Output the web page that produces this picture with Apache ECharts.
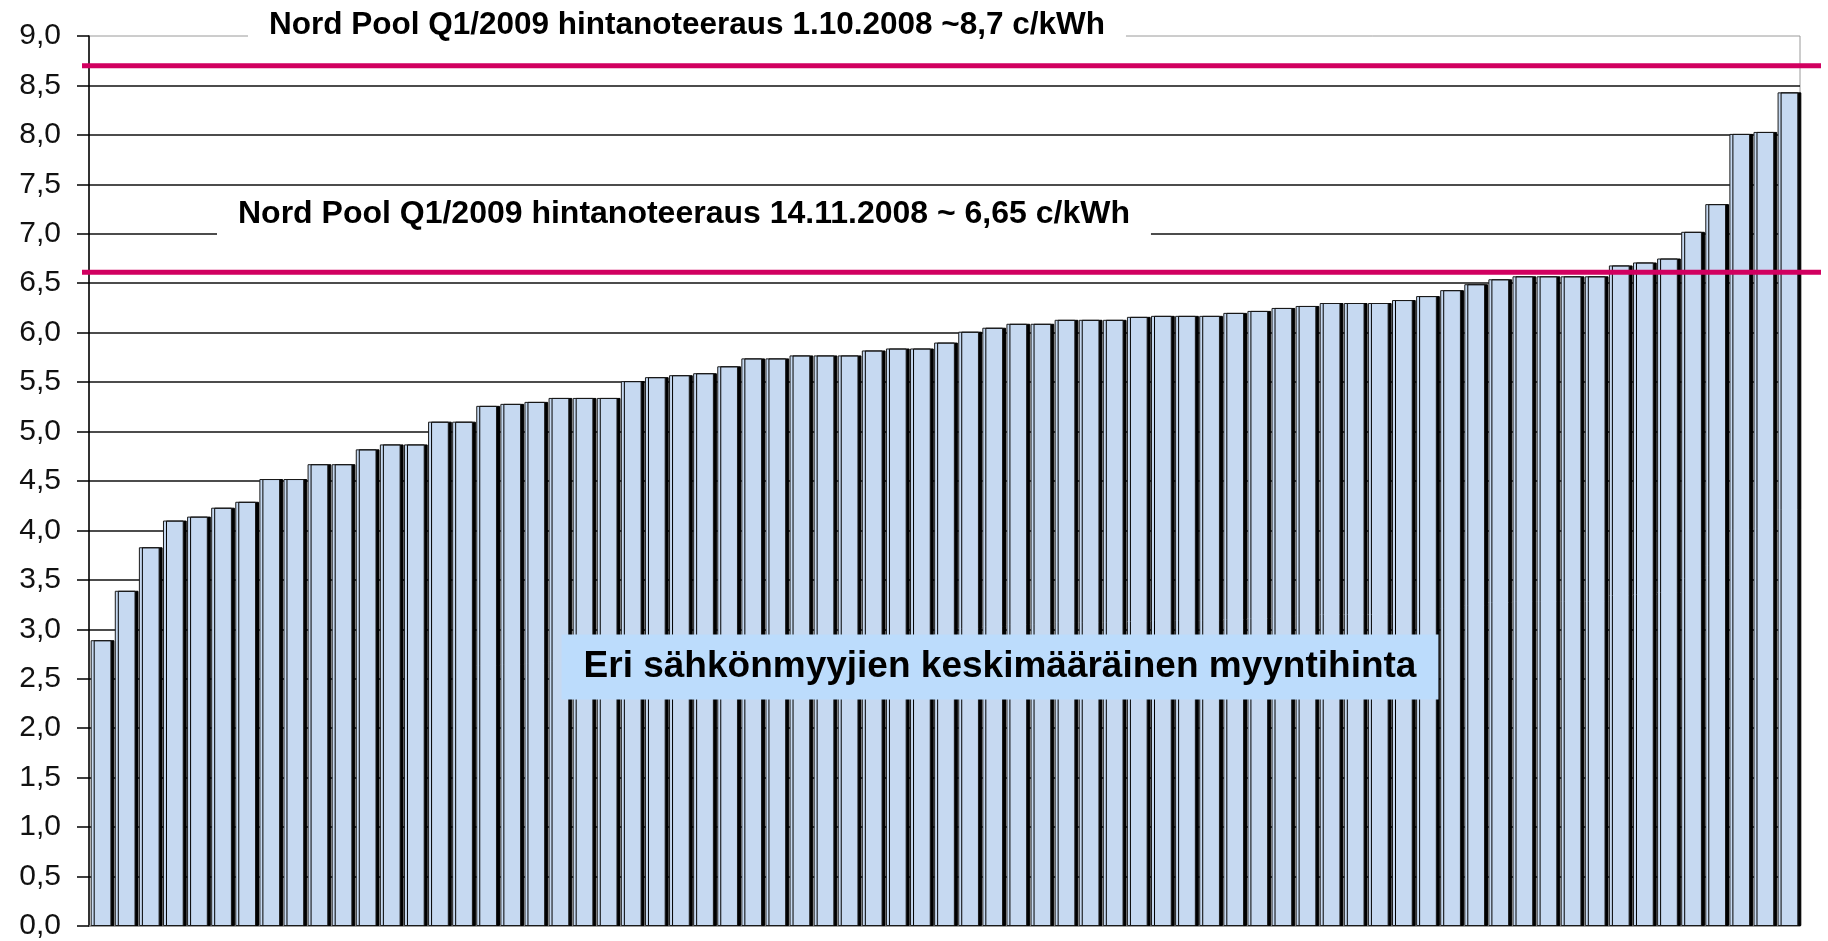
<!DOCTYPE html>
<html>
<head>
<meta charset="utf-8">
<title>Sähkönmyyjien keskimääräinen myyntihinta</title>
<script src="https://cdn.jsdelivr.net/npm/echarts@6/dist/echarts.min.js"></script>
<style>
  html, body { margin: 0; padding: 0; background: #fff; }
  #chart { width: 1828px; height: 941px; }
</style>
</head>
<body>
<div id="chart"></div>
<script>
// myyjät järjestyksessä, halvin ensin
const prices = [
  2.89, 3.39, 3.83, 4.10, 4.14, 4.23, 4.29, 4.52, 4.52, 4.67,
  4.67, 4.82, 4.87, 4.87, 5.10, 5.10, 5.26, 5.28, 5.30, 5.34,
  5.34, 5.34, 5.51, 5.55, 5.57, 5.59, 5.66, 5.74, 5.74, 5.77,
  5.77, 5.77, 5.82, 5.84, 5.84, 5.90, 6.01, 6.05, 6.09, 6.09,
  6.13, 6.13, 6.13, 6.16, 6.17, 6.17, 6.17, 6.20, 6.22, 6.25,
  6.27, 6.30, 6.30, 6.30, 6.33, 6.37, 6.43, 6.49, 6.54, 6.57,
  6.57, 6.57, 6.57, 6.68, 6.71, 6.75, 7.02, 7.30, 8.01, 8.03,
  8.43
]
const sellers = prices.map((p, i) => String(i + 1))

// Nord Pool Q1/2009 noteeraukset (c/kWh)
const quoteOct = 8.7
const quoteNov = 6.61

// y-akseli
const yMin = 0
const yMax = 9
const yStep = 0.5

const labelOct = 'Nord Pool Q1/2009 hintanoteeraus 1.10.2008 ~8,7 c/kWh'
const labelNov = 'Nord Pool Q1/2009 hintanoteeraus 14.11.2008 ~ 6,65 c/kWh'
const labelBars = 'Eri sähkönmyyjien keskimääräinen myyntihinta'

const font = '"Liberation Sans", Arial, sans-serif'

const chart = echarts.init(document.getElementById('chart'))

chart.setOption({
  animation: false,
  grid: {
    left: 89, right: 28, top: 36, bottom: 14,
    show: true,
    borderColor: '#9a9a9a',
    borderWidth: 1
  },
  xAxis: {
    type: 'category',
    data: sellers,
    axisLine: { lineStyle: { color: '#8c8c8c', width: 1.5 } },
    axisTick: { show: false },
    axisLabel: { show: false }
  },
  yAxis: {
    type: 'value',
    min: yMin,
    max: yMax,
    interval: yStep,
    axisLine: { show: true, lineStyle: { color: '#000', width: 1.5 } },
    axisTick: { show: true, length: 12, lineStyle: { color: '#000', width: 1.5 } },
    axisLabel: {
      margin: 28,
      fontFamily: font,
      fontSize: 30,
      color: '#111',
      formatter: (v) => v.toFixed(1).replace('.', ',')
    },
    splitLine: {
      show: true,
      showMinLine: false,
      showMaxLine: false,
      lineStyle: { color: '#111', width: 1.5 }
    }
  },
  series: [
    {
      type: 'bar',
      data: prices,
      barCategoryGap: '14%',
      itemStyle: {
        color: '#c6d9f1',
        borderColor: '#1a1a1a',
        borderWidth: 1,
        shadowColor: '#000',
        shadowOffsetX: 3,
        shadowOffsetY: 0,
        shadowBlur: 0
      }
    }
  ]
})

// viivat ja tekstit akselin mukaan
const yPx = (v) => chart.convertToPixel({ yAxisIndex: 0 }, v)
const plotLeft = 89

const pinkLine = (v) => ({
  type: 'line',
  z: 50,
  shape: { x1: plotLeft - 7, y1: yPx(v), x2: 1821, y2: yPx(v) },
  style: { stroke: '#d10060', lineWidth: 5 }
})

chart.setOption({
  graphic: [
    pinkLine(quoteOct),
    pinkLine(quoteNov),
    {
      type: 'text',
      z: 60,
      x: 248,
      y: yPx(yMax) - 11,
      style: {
        text: labelOct,
        fontFamily: font,
        fontWeight: 'bold',
        fontSize: 31.5,
        fill: '#000',
        verticalAlign: 'middle',
        backgroundColor: '#fff',
        padding: [8, 21]
      }
    },
    {
      type: 'text',
      z: 60,
      x: 217,
      y: yPx(7) - 20,
      style: {
        text: labelNov,
        fontFamily: font,
        fontWeight: 'bold',
        fontSize: 32,
        fill: '#000',
        verticalAlign: 'middle',
        backgroundColor: '#fff',
        padding: [8, 21]
      }
    },
    {
      type: 'text',
      z: 60,
      x: 1000,
      y: 667,
      style: {
        text: labelBars,
        fontFamily: font,
        fontWeight: 'bold',
        fontSize: 37,
        fill: '#000',
        align: 'center',
        verticalAlign: 'middle',
        backgroundColor: '#bcdcfc',
        padding: [14, 22]
      }
    }
  ]
})
</script>
</body>
</html>
